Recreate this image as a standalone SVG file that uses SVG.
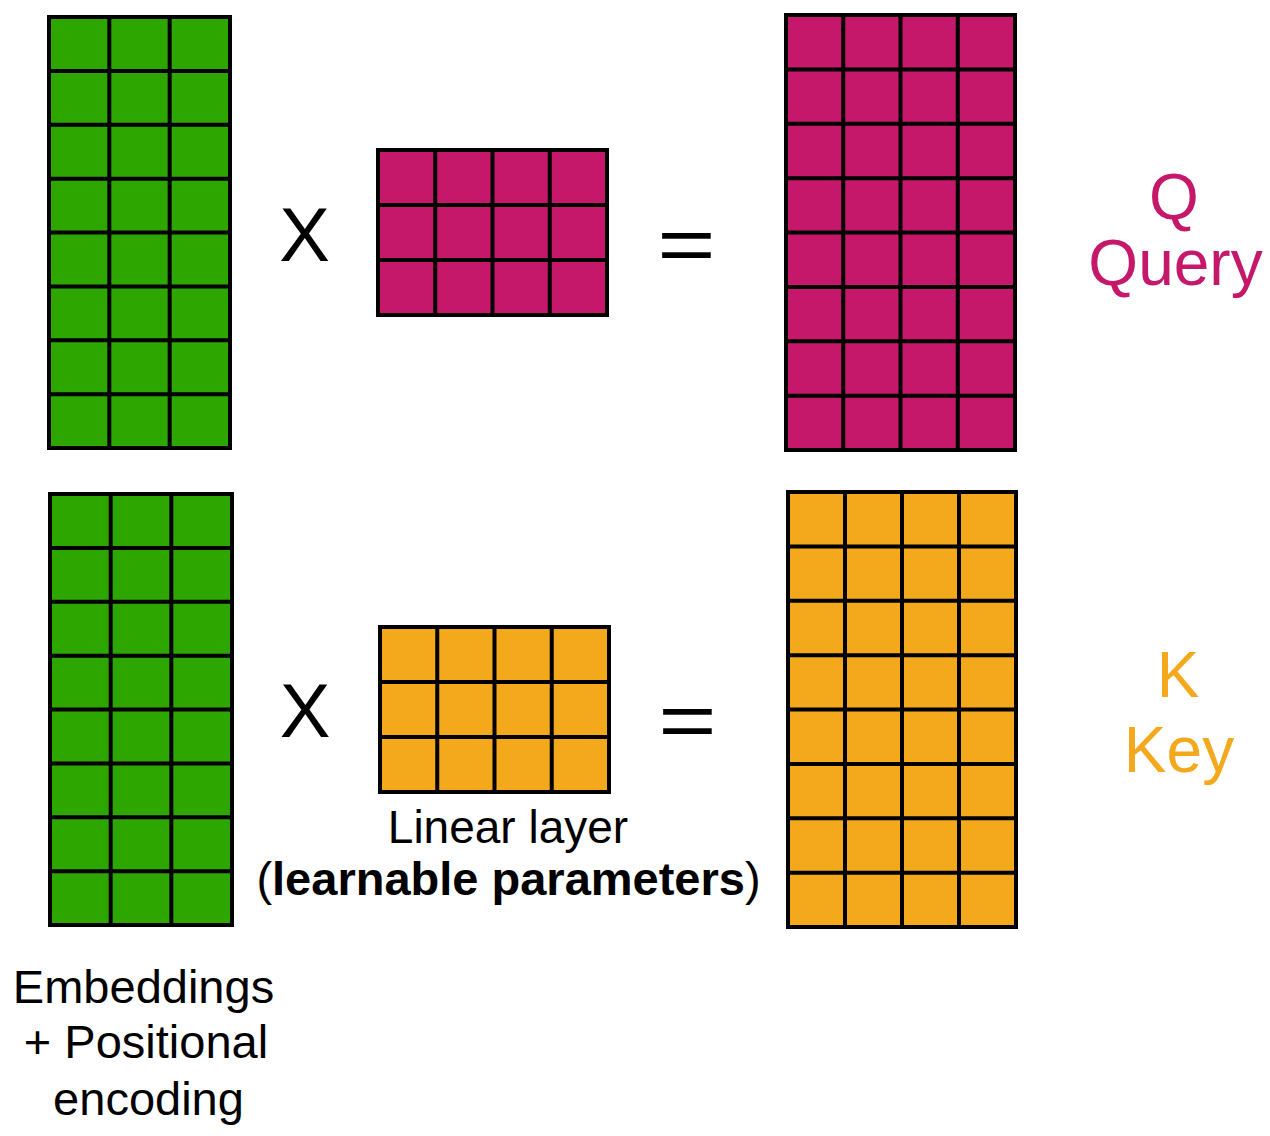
<svg xmlns="http://www.w3.org/2000/svg" width="1270" height="1136" viewBox="0 0 1270 1136">
<style>
.grid{stroke:#000;stroke-width:4;stroke-linecap:square}
.g{fill:#2EA600}
.m{fill:#C5186B}
.o{fill:#F4A81C}
.t{font-family:"Liberation Sans",Arial,sans-serif;fill:#000}
.lbl{font-family:"Liberation Sans",Arial,sans-serif;font-size:64px;text-anchor:middle}
</style>
<rect width="1270" height="1136" fill="#fff"/>
<g id="embeddings-q">
<rect class="grid g" x="49" y="17" width="181" height="431"/>
<path class="grid" fill="none" d="M109.33 17V448M169.67 17V448M49 70.875H230M49 124.75H230M49 178.625H230M49 232.5H230M49 286.375H230M49 340.25H230M49 394.125H230"/>
</g>
<g id="weights-q">
<rect class="grid m" x="378" y="150" width="229" height="165"/>
<path class="grid" fill="none" d="M435.25 150V315M492.5 150V315M549.75 150V315M378 205H607M378 260H607"/>
</g>
<g id="query">
<rect class="grid m" x="786" y="15" width="229" height="435"/>
<path class="grid" fill="none" d="M843.25 15V450M900.5 15V450M957.75 15V450M786 69.375H1015M786 123.75H1015M786 178.125H1015M786 232.5H1015M786 286.875H1015M786 341.25H1015M786 395.625H1015"/>
</g>
<g id="embeddings-k">
<rect class="grid g" x="50" y="494" width="182" height="431"/>
<path class="grid" fill="none" d="M110.67 494V925M171.33 494V925M50 547.875H232M50 601.75H232M50 655.625H232M50 709.5H232M50 763.375H232M50 817.25H232M50 871.125H232"/>
</g>
<g id="weights-k">
<rect class="grid o" x="380" y="627" width="229" height="165"/>
<path class="grid" fill="none" d="M437.25 627V792M494.5 627V792M551.75 627V792M380 682H609M380 737H609"/>
</g>
<g id="key">
<rect class="grid o" x="788" y="492" width="228" height="435"/>
<path class="grid" fill="none" d="M845 492V927M902 492V927M959 492V927M788 546.375H1016M788 600.75H1016M788 655.125H1016M788 709.5H1016M788 763.875H1016M788 818.25H1016M788 872.625H1016"/>
</g>
<g id="operators">
<text class="t" x="304.5" y="261" font-size="76" text-anchor="middle">X</text>
<text class="t" x="305" y="737" font-size="76" text-anchor="middle">X</text>
<text class="t" font-size="100" text-anchor="middle" transform="translate(686.5,271) scale(1,0.78)">=</text>
<text class="t" font-size="100" text-anchor="middle" transform="translate(687.5,747) scale(1,0.78)">=</text>
</g>
<g id="labels">
<text class="lbl" x="1174" y="219" fill="#C5186B">Q</text>
<text class="lbl" x="1175.5" y="285" fill="#C5186B">Query</text>
<text class="lbl" x="1178" y="697" fill="#F4A81C">K</text>
<text class="lbl" x="1179" y="772" fill="#F4A81C">Key</text>
<text class="t" x="508" y="843" font-size="46" text-anchor="middle">Linear layer</text>
<text class="t" x="508.5" y="895" font-size="47" text-anchor="middle">(<tspan font-weight="bold">learnable parameters</tspan>)</text>
<text class="t" x="143.5" y="1003" font-size="47" text-anchor="middle">Embeddings</text>
<text class="t" x="146" y="1058" font-size="47" text-anchor="middle">+ Positional</text>
<text class="t" x="148.5" y="1115" font-size="47" text-anchor="middle">encoding</text>
</g>
</svg>
